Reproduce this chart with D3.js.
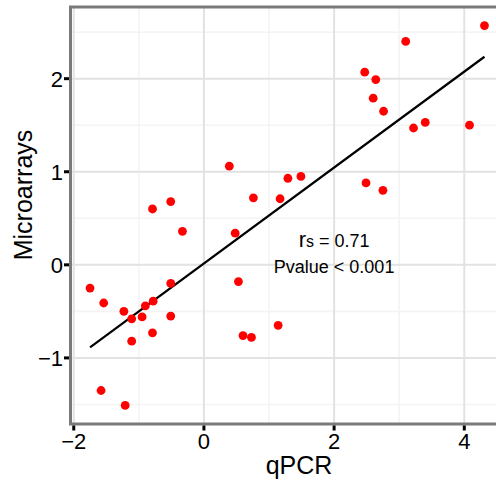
<!DOCTYPE html>
<html>
<head>
<meta charset="utf-8">
<script src="https://cdn.jsdelivr.net/npm/d3@7"></script>
<style>
  body { margin: 0; background: #fff; }
  text { font-family: "Liberation Sans", Arial, sans-serif; fill: #000; }
</style>
</head>
<body>
<div id="chart"></div>
<script>
// qPCR vs microarray log ratios
var qpcr = [4.31, 3.10, 2.47, 2.64, 2.60, 2.76, 3.22, 3.40, 4.08, 1.29, 1.49, 0.76, 1.17, 2.49, 2.75,
            0.39, -0.79, -0.51, -0.33, 0.48, -1.75, -1.54, -1.23, -1.11, -0.95, -0.90, -0.78, -0.51,
            -0.51, -0.79, -1.11, -1.58, -1.21, 0.53, 0.60, 0.73, 1.14];
var micro = [2.57, 2.40, 2.07, 1.99, 1.79, 1.65, 1.47, 1.53, 1.50, 0.93, 0.95, 0.72, 0.71, 0.88, 0.80,
             1.06, 0.60, 0.68, 0.36, 0.34, -0.25, -0.41, -0.50, -0.58, -0.56, -0.44, -0.39, -0.20,
             -0.55, -0.73, -0.82, -1.35, -1.51, -0.18, -0.76, -0.78, -0.65];
var xTicks = [-2, 0, 2, 4];
var yTicks = [-1, 0, 1, 2];
var xMinor = [-1, 1, 3];
var yMinor = [-1.5, -0.5, 0.5, 1.5, 2.5];

var svgWidth = 496, svgHeight = 482;

var svg = d3.select("#chart").append("svg")
    .attr("width", svgWidth)
    .attr("height", svgHeight);

var x = d3.scaleLinear().domain([-2.05, 4.61]).range([70.5, 504]);
var y = d3.scaleLinear().domain([-1.71, 2.77]).range([424, 7]);

var data = qpcr.map(function(d, i) { return {x: d, y: micro[i]}; });

// grid
svg.append("g").selectAll("line").data(xMinor).enter().append("line")
    .attr("x1", d => x(d)).attr("x2", d => x(d))
    .attr("y1", y.range()[0]).attr("y2", y.range()[1])
    .attr("stroke", "#f4f4f4").attr("stroke-width", 1.6);
svg.append("g").selectAll("line").data(yMinor).enter().append("line")
    .attr("y1", d => y(d)).attr("y2", d => y(d))
    .attr("x1", x.range()[0]).attr("x2", x.range()[1])
    .attr("stroke", "#f4f4f4").attr("stroke-width", 1.6);
svg.append("g").selectAll("line").data(xTicks).enter().append("line")
    .attr("x1", d => x(d)).attr("x2", d => x(d))
    .attr("y1", y.range()[0]).attr("y2", y.range()[1])
    .attr("stroke", "#e2e2e2").attr("stroke-width", 2);
svg.append("g").selectAll("line").data(yTicks).enter().append("line")
    .attr("y1", d => y(d)).attr("y2", d => y(d))
    .attr("x1", x.range()[0]).attr("x2", x.range()[1])
    .attr("stroke", "#e2e2e2").attr("stroke-width", 2);

// linear fit (least squares)
var mx = d3.mean(qpcr), my = d3.mean(micro);
var sxy = d3.sum(data, d => (d.x - mx) * (d.y - my));
var sxx = d3.sum(data, d => (d.x - mx) * (d.x - mx));
var slope = sxy / sxx, intercept = my - slope * mx;
var ext = d3.extent(qpcr);
svg.append("path")
    .datum(ext.map(v => ({x: v, y: intercept + slope * v})))
    .attr("d", d3.line().x(d => x(d.x)).y(d => y(d.y)))
    .attr("stroke", "#000").attr("stroke-width", 2.2).attr("fill", "none");

// points
svg.append("g").selectAll("circle").data(data).enter().append("circle")
    .attr("cx", d => x(d.x))
    .attr("cy", d => y(d.y))
    .attr("r", 4.4)
    .attr("fill", "#ff0000");

// panel border (grey)
svg.append("rect")
    .attr("x", x.range()[0]).attr("y", y.range()[1])
    .attr("width", x.range()[1] - x.range()[0])
    .attr("height", y.range()[0] - y.range()[1])
    .attr("fill", "none").attr("stroke", "#7a7a7a").attr("stroke-width", 3);

// ticks
svg.append("g").selectAll("line").data(xTicks).enter().append("line")
    .attr("x1", d => x(d)).attr("x2", d => x(d))
    .attr("y1", 425.5).attr("y2", 430.5)
    .attr("stroke", "#000").attr("stroke-width", 3);
svg.append("g").selectAll("line").data(yTicks).enter().append("line")
    .attr("y1", d => y(d)).attr("y2", d => y(d))
    .attr("x1", 64).attr("x2", 69)
    .attr("stroke", "#000").attr("stroke-width", 3);

// tick labels
svg.append("g").selectAll("text").data(xTicks).enter().append("text")
    .attr("x", d => x(d)).attr("y", 449)
    .attr("text-anchor", "middle").attr("font-size", 22)
    .text(d => d3.format("")(d).replace("-", "\u2212"));
svg.append("g").selectAll("text").data(yTicks).enter().append("text")
    .attr("x", 63).attr("y", d => y(d) + 8)
    .attr("text-anchor", "end").attr("font-size", 22)
    .text(d => d3.format("")(d).replace("-", "\u2212"));

// axis titles
svg.append("text")
    .attr("x", 299).attr("y", 474)
    .attr("text-anchor", "middle").attr("font-size", 25)
    .text("qPCR");
svg.append("text")
    .attr("transform", "translate(32,195) rotate(-90)")
    .attr("text-anchor", "middle").attr("font-size", 25)
    .text("Microarrays");

// annotation
var rs = svg.append("text")
    .attr("x", x(2)).attr("y", y(0.3) + 10)
    .attr("text-anchor", "middle");
rs.append("tspan").attr("font-size", 22).text("r");
rs.append("tspan").attr("font-size", 16).text("s");
rs.append("tspan").attr("font-size", 18).text(" = 0.71");
svg.append("text")
    .attr("x", x(2)).attr("y", y(0) + 8.5)
    .attr("text-anchor", "middle").attr("font-size", 18)
    .text("Pvalue < 0.001");
</script>
</body>
</html>
